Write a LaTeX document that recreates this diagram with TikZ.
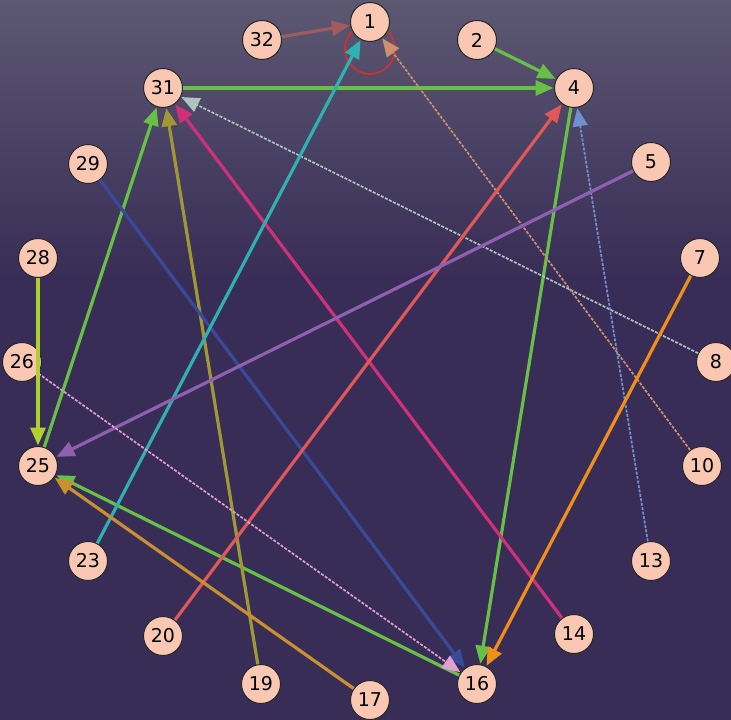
\documentclass[tikz,border=0pt]{standalone}
\usepackage{fontspec}
\setmainfont{DejaVu Sans}
\usetikzlibrary{arrows.meta}
\definecolor{bgtop}{RGB}{92,88,114}
\definecolor{bgmid}{RGB}{56,45,86}
\definecolor{nodefill}{RGB}{250,200,178}
\definecolor{cgreen}{RGB}{104,192,70}
\definecolor{cbrown}{RGB}{160,90,96}
\definecolor{colive}{RGB}{160,152,52}
\definecolor{cmag}{RGB}{208,48,122}
\definecolor{cgray}{RGB}{176,196,188}
\definecolor{cblue}{RGB}{58,74,154}
\definecolor{cteal}{RGB}{48,176,176}
\definecolor{ctan}{RGB}{208,144,112}
\definecolor{ccoral}{RGB}{224,88,88}
\definecolor{clblue}{RGB}{112,144,208}
\definecolor{cpurple}{RGB}{144,96,176}
\definecolor{cyg}{RGB}{176,208,48}
\definecolor{cpink}{RGB}{224,160,208}
\definecolor{corange}{RGB}{240,144,26}
\definecolor{cgold}{RGB}{200,144,48}
\definecolor{hlred}{RGB}{208,48,48}
\tikzset{
  vtx/.style={circle, draw=black!85, line width=1pt, fill=nodefill, minimum size=39pt, inner sep=0pt, font=\fontsize{19}{19}\selectfont},
  edge/.style={line width=3.2pt, -{Triangle[length=18pt,width=15pt]}, shorten >=0.5pt},
  thinedge/.style={line width=1.7pt, dash pattern=on 3pt off 1.5pt, -{Triangle[length=18pt,width=15pt]}, shorten >=0.5pt},
}
\begin{document}
\begin{tikzpicture}[x=1pt,y=-1pt]
\useasboundingbox (0,0) rectangle (731,720);
\shade[top color=bgtop, bottom color=bgmid] (0,0) rectangle (731,280);
\fill[bgmid] (0,279) rectangle (731,720);
\draw[hlred, line width=1.8pt] (370,49) circle (25);
\node[vtx] (n1) at (370,22) {1};
\node[vtx] (n32) at (262,40) {32};
\node[vtx] (n2) at (477,40) {2};
\node[vtx] (n4) at (574,88) {4};
\node[vtx] (n31) at (163,88) {31};
\node[vtx] (n29) at (88,164) {29};
\node[vtx] (n5) at (651,162) {5};
\node[vtx] (n28) at (38,258) {28};
\node[vtx] (n7) at (700,258) {7};
\node[vtx] (n26) at (22,362) {26};
\node[vtx] (n8) at (716,362) {8};
\node[vtx] (n25) at (38,466) {25};
\node[vtx] (n10) at (702,466) {10};
\node[vtx] (n23) at (88,561) {23};
\node[vtx] (n13) at (651,561) {13};
\node[vtx] (n20) at (163,636) {20};
\node[vtx] (n14) at (574,634) {14};
\node[vtx] (n19) at (261,684) {19};
\node[vtx] (n16) at (477,684) {16};
\node[vtx] (n17) at (370,700) {17};
% edges
\draw[edge, cbrown] (n32) -- (n1);
\draw[edge, cgreen] (n2) -- (n4);
\draw[edge, cgreen] (n31) -- (n4);
\draw[edge, cgreen] (n4) -- (n16);
\draw[edge, cgreen] (n25) -- (n31);
\draw[edge, cgreen] (n16) -- (n25);
\draw[edge, colive] (n19) -- (n31);
\draw[edge, cmag] (n14) -- (n31);
\draw[thinedge, cgray] (n8) -- (n31);
\draw[edge, cblue] (n29) -- (n16);
\draw[edge, cteal] (n23) -- (n1);
\draw[thinedge, ctan] (n10) -- (n1);
\draw[edge, ccoral] (n20) -- (n4);
\draw[thinedge, clblue] (n13) -- (n4);
\draw[edge, cpurple] (n5) -- (n25);
\draw[edge, cyg] (n28) -- (n25);
\draw[thinedge, cpink] (n26) -- (n16);
\draw[edge, corange] (n7) -- (n16);
\draw[edge, cgold] (n17) -- (n25);
\end{tikzpicture}
\end{document}
